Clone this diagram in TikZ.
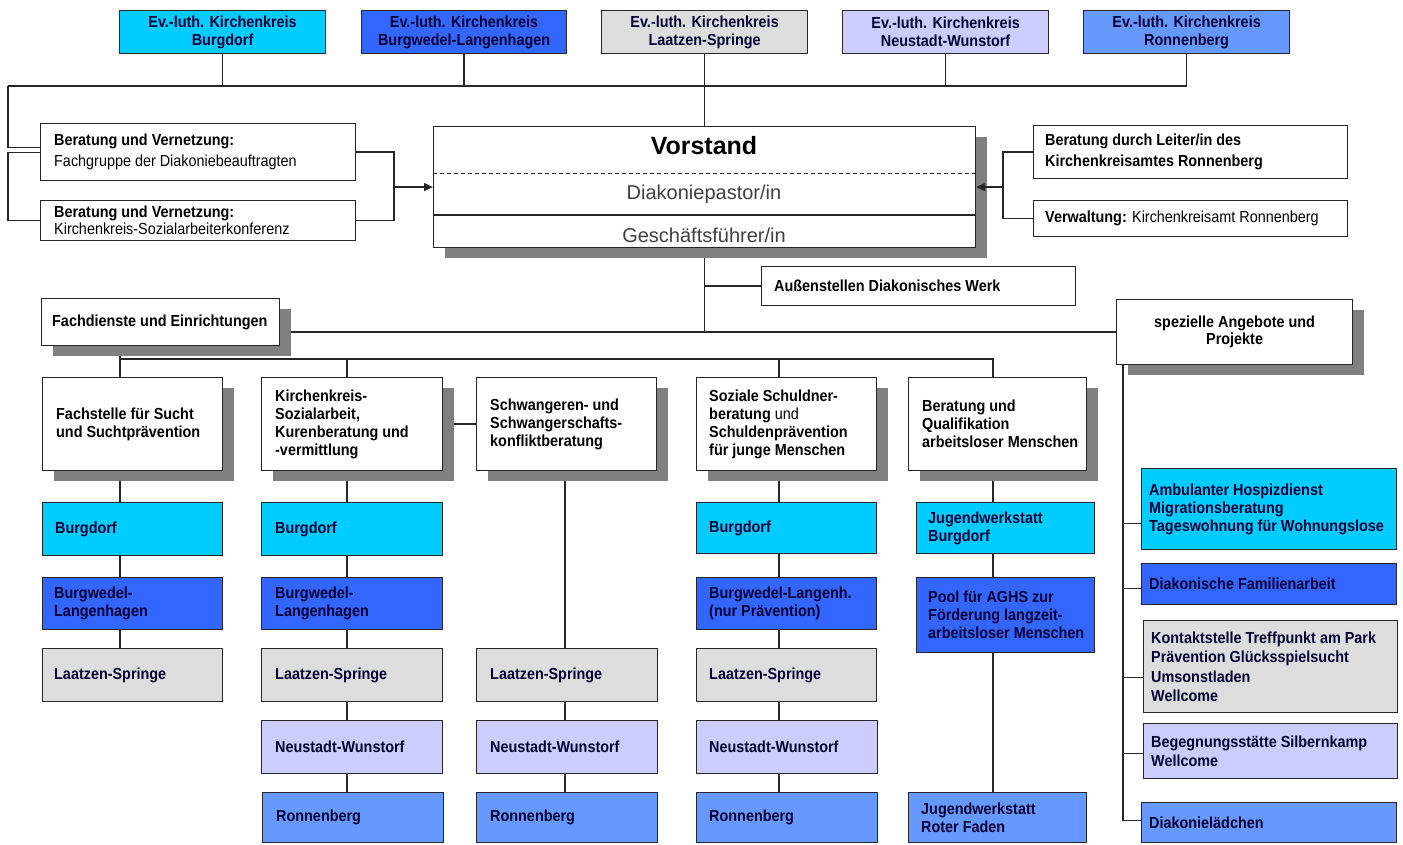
\documentclass[tikz,border=0pt]{standalone}
\usepackage{fontspec}
\setmainfont{Liberation Sans}[FakeStretch=0.9]
\newfontfamily\widefont{Liberation Sans}
\usetikzlibrary{shadows,backgrounds,arrows.meta}
\definecolor{cy}{HTML}{00CCFF}
\definecolor{bl}{HTML}{3366FF}
\definecolor{gr}{HTML}{DDDDDD}
\definecolor{lv}{HTML}{CCCCFF}
\definecolor{rb}{HTML}{6699FF}
\definecolor{navy}{HTML}{000033}
\definecolor{shd}{HTML}{808080}
\definecolor{ln}{HTML}{262626}
\definecolor{vgray}{HTML}{404040}
\tikzset{
 box/.style={draw=ln, line width=1.2pt, rectangle, inner sep=0pt},
 wbox/.style={box, fill=white},
 sbox/.style={wbox, drop shadow={shadow xshift=11pt, shadow yshift=-10pt, fill=shd, opacity=1}},
 txt/.style={inner sep=0pt, align=left, font=\fontsize{16}{18}\selectfont\bfseries, text=navy},
 btxt/.style={txt, text=black},
 ctxt/.style={txt, align=center},
 cbtxt/.style={ctxt, text=black},
 conn/.style={draw=ln, line width=1.4pt},
 arr/.style={conn, -{Triangle[length=9pt,width=8pt]}},
}
% name, x1, y1, x2, y2, box style, text style, left pad, text
\newcommand\bx[9]{%
 \pgfmathsetmacro\bw{#4-#2}\pgfmathsetmacro\bh{#5-#3}%
 \node[#6, minimum width=\bw pt, minimum height=\bh pt, anchor=north west] (#1) at (#2,#3) {};%
 \node[#7, anchor=west] (#1t) at ([xshift=#8pt]#1.west) {#9};}
% name, x1, y1, x2, y2, box style, text style, text
\newcommand\cbx[8]{%
 \pgfmathsetmacro\bw{#4-#2}\pgfmathsetmacro\bh{#5-#3}%
 \node[#6, minimum width=\bw pt, minimum height=\bh pt, anchor=north west] (#1) at (#2,#3) {};%
 \node[#7] (#1t) at (#1.center) {#8};}
\begin{document}
\begin{tikzpicture}[x=1pt,y=-1pt]
\useasboundingbox (0,0) rectangle (1403,844);
% top row
\cbx{T1}{119}{10}{325}{53}{box,fill=cy}{ctxt}{Ev.-luth. Kirchenkreis\\Burgdorf}
\cbx{T2}{361}{10}{566}{53}{box,fill=bl}{ctxt}{Ev.-luth. Kirchenkreis\\Burgwedel-Langenhagen}
\cbx{T3}{601}{10}{807}{53}{box,fill=gr}{ctxt}{Ev.-luth. Kirchenkreis\\Laatzen-Springe}
\cbx{T4}{842}{10}{1048}{53}{box,fill=lv}{ctxt}{Ev.-luth. Kirchenkreis\\Neustadt-Wunstorf}
\cbx{T5}{1083}{10}{1289}{53}{box,fill=rb}{ctxt}{Ev.-luth. Kirchenkreis\\Ronnenberg}
% left advisory boxes
\bx{L1}{40}{123}{355}{180}{wbox}{btxt}{14}{Beratung und Vernetzung:\\[3pt]{\mdseries Fachgruppe der Diakoniebeauftragten}}
\bx{L2}{40}{200}{355}{240}{wbox}{btxt}{14}{Beratung und Vernetzung:\\[-1pt]{\mdseries Kirchenkreis-Sozialarbeiterkonferenz}}
% Vorstand
\node[sbox, minimum width=542pt, minimum height=121pt, anchor=north west] (V) at (433,126) {};
\node[inner sep=0pt, font=\widefont\fontsize{25}{30}\selectfont\bfseries] (Vt) at (704,146) {Vorstand};
\node[inner sep=0pt, font=\widefont\fontsize{20}{24}\selectfont, text=vgray] (Vd) at (704,194) {Diakoniepastor/in};
\node[inner sep=0pt, font=\widefont\fontsize{20}{24}\selectfont, text=vgray] (Vg) at (704,235) {Geschäftsführer/in};
\draw[draw=ln, line width=1pt, dash pattern=on 4pt off 3pt] (V.west |- 0,173) -- (V.east |- 0,173);
\draw[draw=ln, line width=1.2pt] (V.west |- 0,215) -- (V.east |- 0,215);
% right advisory boxes
\bx{R1}{1033}{125}{1347}{178}{wbox}{btxt}{12}{Beratung durch Leiter/in des\\[3pt]Kirchenkreisamtes Ronnenberg}
\bx{R2}{1033}{200}{1347}{236}{wbox}{btxt}{12}{Verwaltung: {\mdseries Kirchenkreisamt Ronnenberg}}
% Aussenstellen
\bx{A}{761}{266}{1075}{305}{wbox}{btxt}{13}{Außenstellen Diakonisches Werk}
% Fachdienste / spezielle
\bx{F}{41}{298}{279}{345}{sbox}{btxt}{11}{Fachdienste und Einrichtungen}
\cbx{S}{1116}{299}{1352}{364}{sbox}{cbtxt}{spezielle Angebote und\\[-1pt]Projekte}
% middle boxes
\bx{M1}{42}{377}{222}{470}{sbox}{btxt}{14}{Fachstelle für Sucht\\und Suchtprävention}
\bx{M2}{261}{377}{442}{470}{sbox}{btxt}{14}{Kirchenkreis-\\Sozialarbeit,\\Kurenberatung und\\-vermittlung}
\bx{M3}{476}{377}{656}{470}{sbox}{btxt}{14}{Schwangeren- und\\Schwangerschafts-\\konfliktberatung}
\bx{M4}{696}{377}{876}{470}{sbox}{btxt}{13}{Soziale Schuldner-\\beratung {\mdseries und}\\Schuldenprävention\\für junge Menschen}
\bx{M5}{908}{377}{1086}{470}{sbox}{btxt}{14}{Beratung und\\Qualifikation\\arbeitsloser Menschen}
% column 1
\bx{a1}{42}{502}{222}{555}{box,fill=cy}{txt}{13}{Burgdorf}
\bx{a2}{42}{577}{222}{629}{box,fill=bl}{txt}{12}{Burgwedel-\\Langenhagen}
\bx{a3}{42}{648}{222}{701}{box,fill=gr}{txt}{12}{Laatzen-Springe}
% column 2
\bx{b1}{261}{502}{442}{555}{box,fill=cy}{txt}{14}{Burgdorf}
\bx{b2}{261}{577}{442}{629}{box,fill=bl}{txt}{14}{Burgwedel-\\Langenhagen}
\bx{b3}{261}{648}{442}{701}{box,fill=gr}{txt}{14}{Laatzen-Springe}
\bx{b4}{261}{720}{442}{773}{box,fill=lv}{txt}{14}{Neustadt-Wunstorf}
\bx{b5}{262}{792}{443}{842}{box,fill=rb}{txt}{14}{Ronnenberg}
% column 3
\bx{c3}{476}{648}{657}{701}{box,fill=gr}{txt}{14}{Laatzen-Springe}
\bx{c4}{476}{720}{657}{773}{box,fill=lv}{txt}{14}{Neustadt-Wunstorf}
\bx{c5}{476}{792}{657}{842}{box,fill=rb}{txt}{14}{Ronnenberg}
% column 4
\bx{d1}{696}{502}{876}{553}{box,fill=cy}{txt}{13}{Burgdorf}
\bx{d2}{696}{577}{876}{629}{box,fill=bl}{txt}{13}{Burgwedel-Langenh.\\(nur Prävention)}
\bx{d3}{696}{648}{876}{701}{box,fill=gr}{txt}{13}{Laatzen-Springe}
\bx{d4}{696}{720}{877}{773}{box,fill=lv}{txt}{13}{Neustadt-Wunstorf}
\bx{d5}{696}{792}{877}{842}{box,fill=rb}{txt}{13}{Ronnenberg}
% column 5
\bx{e1}{916}{502}{1094}{553}{box,fill=cy}{txt}{12}{Jugendwerkstatt\\Burgdorf}
\bx{e2}{916}{577}{1094}{652}{box,fill=bl}{txt}{12}{Pool für AGHS zur\\Förderung langzeit-\\arbeitsloser Menschen}
\bx{e3}{908}{792}{1086}{842}{box,fill=rb}{txt}{13}{Jugendwerkstatt\\Roter Faden}
% right column
\bx{f1}{1141}{468}{1396}{549}{box,fill=cy}{txt}{8}{Ambulanter Hospizdienst\\Migrationsberatung\\Tageswohnung für Wohnungslose}
\bx{f2}{1141}{563}{1396}{604}{box,fill=bl}{txt}{8}{Diakonische Familienarbeit}
\bx{f3}{1143}{620}{1397}{712}{box,fill=gr}{txt}{8}{Kontaktstelle Treffpunkt am Park\\[1.5pt]Prävention Glücksspielsucht\\[1.5pt]Umsonstladen\\[1.5pt]Wellcome}
\bx{f4}{1143}{723}{1397}{778}{box,fill=lv}{txt}{8}{Begegnungsstätte Silbernkamp\\[1pt]Wellcome}
\bx{f5}{1141}{802}{1396}{842}{box,fill=rb}{txt}{8}{Diakonielädchen}
% coordinates
\coordinate (hl) at (8,86);
\coordinate (xb) at (394,0);
\coordinate (xr) at (1003,0);
\coordinate (j1) at (120,359);
\coordinate (j2) at (347,359);
\coordinate (k3) at (565,359);
\coordinate (j4) at (779,359);
\coordinate (j5) at (993,359);
\coordinate (k6) at (1123,0);
% arrows into Vorstand (on top of the shadow)
\draw[arr] (xb |- V.west) -- (V.west);
\draw[arr] (xr |- V.east) -- (V.east);
% connectors
\begin{scope}[on background layer]
 \fill[white] (0,0) rectangle (1403,844);
 \draw[conn] (hl) -- (T5.south |- hl);
 \foreach \t in {T1,T2,T4,T5} \draw[conn] (\t.south) -- (\t.south |- hl);
 \draw[conn] (T3.south) -- (V.north);
 \draw[conn] (hl) |- ([yshift=4.5pt]L1.west);
 \draw[conn] ([yshift=-0.5pt]L1.west) -| (hl |- L2.west) -- (L2.west);
 \draw[conn] (L1.east) -| (xb |- L2.east) -- (L2.east);
 \draw[conn] (R1.west) -| (xr |- R2.west) -- (R2.west);
 \draw[conn] (V.south) -- (V.south |- S.west);
 \draw[conn] (V.south |- A.west) -- (A.west);
 \draw[conn] (F.east |- S.west) -- (S.west);
 \draw[conn] (F.south -| j1) -- (j1) -- (j5) -- (j5 |- M5.north);
 \draw[conn] (j1) -- (j1 |- M1.north);
 \draw[conn] (j2) -- (j2 |- M2.north);
 \draw[conn] (j4) -- (j4 |- M4.north);
 \draw[conn] (M2.east) -- (M3.west);
 \foreach \u/\v in {M1/a1,a1/a2,a2/a3} \draw[conn] (j1 |- \u.south) -- (j1 |- \v.north);
 \foreach \u/\v in {M2/b1,b1/b2,b2/b3,b3/b4,b4/b5} \draw[conn] (j2 |- \u.south) -- (j2 |- \v.north);
 \foreach \u/\v in {M3/c3,c3/c4,c4/c5} \draw[conn] (k3 |- \u.south) -- (k3 |- \v.north);
 \foreach \u/\v in {M4/d1,d1/d2,d2/d3,d3/d4,d4/d5} \draw[conn] (j4 |- \u.south) -- (j4 |- \v.north);
 \foreach \u/\v in {M5/e1,e1/e2,e2/e3} \draw[conn] (j5 |- \u.south) -- (j5 |- \v.north);
 \draw[conn] (S.south -| k6) |- ([yshift=2pt]f5.west);
 \path ([yshift=-14.5pt]f1.west) coordinate (g1) ([yshift=-4.5pt]f2.west) coordinate (g2)
       ([yshift=-11pt]f3.west) coordinate (g3) ([yshift=-2.5pt]f4.west) coordinate (g4);
 \foreach \g in {g1,g2,g3,g4} \draw[conn] (k6 |- \g) -- (\g);
\end{scope}
\end{tikzpicture}
\end{document}
